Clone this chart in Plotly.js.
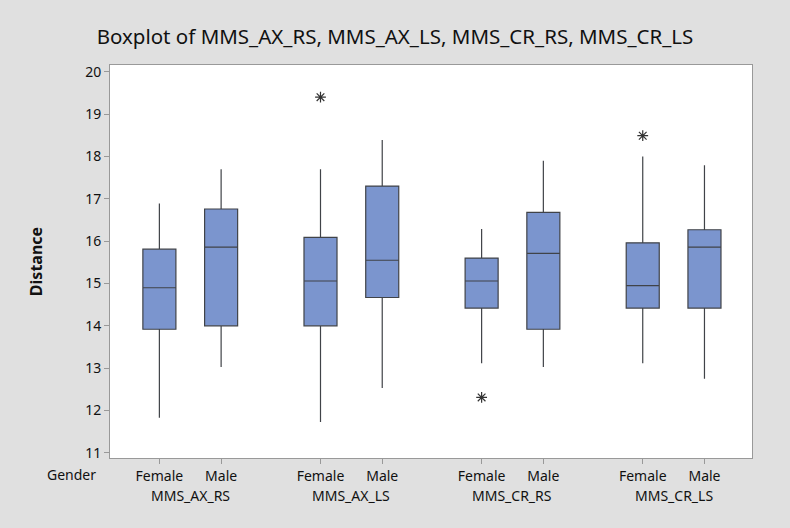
<!DOCTYPE html>
<html>
<head>
<meta charset="utf-8">
<script src="https://cdn.plot.ly/plotly-3.0.1.min.js"></script>
<style>html,body{margin:0;padding:0;background:#e0e0e0;}#chart{width:790px;height:528px;}</style>
</head>
<body>
<div id="chart"></div>
<script>
const variables = ["MMS_AX_RS", "MMS_AX_LS", "MMS_CR_RS", "MMS_CR_LS"];
const genders = ["Female", "Male"];
// order: AX_RS F, AX_RS M, AX_LS F, AX_LS M, CR_RS F, CR_RS M, CR_LS F, CR_LS M
const lowerWhisker = [11.83, 13.03, 11.73, 12.53, 13.12, 13.03, 13.12, 12.75];
const q1Values     = [13.92, 14.00, 14.00, 14.67, 14.42, 13.92, 14.42, 14.42];
const medianValues = [14.90, 15.86, 15.06, 15.55, 15.06, 15.71, 14.95, 15.86];
const q3Values     = [15.81, 16.76, 16.09, 17.30, 15.60, 16.68, 15.96, 16.27];
const upperWhisker = [16.89, 17.70, 17.70, 18.39, 16.29, 17.90, 18.00, 17.79];
const outlierBox   = [2, 4, 6];
const outlierValues = [19.40, 12.31, 18.49];

const groupGap = 2.61;
const pos = i => Math.floor(i / 2) * groupGap + (i % 2);

const traces = [];
for (let i = 0; i < q1Values.length; i++) {
  traces.push({
    type: "box",
    x: [pos(i)],
    q1: [q1Values[i]],
    median: [medianValues[i]],
    q3: [q3Values[i]],
    lowerfence: [lowerWhisker[i]],
    upperfence: [upperWhisker[i]],
    width: 0.535,
    whiskerwidth: 0,
    fillcolor: "#7b95ce",
    line: {color: "#404348", width: 1.2},
    boxpoints: false,
    showlegend: false,
    hoverinfo: "skip"
  });
}
traces.push({
  type: "scatter",
  mode: "markers",
  x: outlierBox.map(pos),
  y: outlierValues,
  marker: {symbol: "asterisk-open", size: 9, color: "#333", line: {color: "#333", width: 1.2}},
  showlegend: false,
  hoverinfo: "skip"
});

const tickvals = [], ticktext = [];
for (let i = 0; i < variables.length * genders.length; i++) {
  tickvals.push(pos(i));
  ticktext.push(genders[i % 2]);
}
const annotations = variables.map((v, g) => ({
  x: g * groupGap + 0.5, y: -0.095, xref: "x", yref: "paper",
  text: v, showarrow: false, font: {size: 14, color: "#111"}, yanchor: "middle"
}));
annotations.push({
  x: -0.0607, y: -0.042, xref: "paper", yref: "paper", text: "Gender", showarrow: false,
  font: {size: 14, color: "#111"}, yanchor: "middle", xanchor: "center"
});

const layout = {
  width: 790, height: 528,
  paper_bgcolor: "#e0e0e0",
  plot_bgcolor: "#ffffff",
  margin: {l: 110, r: 38, t: 65, b: 70},
  font: {family: "Noto Sans, Open Sans, sans-serif", color: "#111"},
  title: {text: "Boxplot of MMS_AX_RS, MMS_AX_LS, MMS_CR_RS, MMS_CR_LS",
          font: {size: 20.5, color: "#111"}, x: 0.5, xanchor: "center", y: 0.93, yanchor: "middle"},
  xaxis: {
    range: [-0.8, 9.6], tickvals: tickvals, ticktext: ticktext,
    ticks: "outside", ticklen: 5, tickcolor: "#999", tickfont: {size: 14},
    showgrid: false, zeroline: false, showline: true, linecolor: "#999", mirror: true
  },
  yaxis: {
    range: [10.88, 20.16], dtick: 1, tick0: 11,
    ticks: "outside", ticklen: 5, tickcolor: "#999", tickfont: {size: 14},
    showgrid: false, zeroline: false, showline: true, linecolor: "#999", mirror: true,
    title: {text: "<b>Distance</b>", font: {size: 16}, standoff: 38}
  },
  annotations: annotations
};
Plotly.newPlot("chart", traces, layout, {staticPlot: true});
</script>
</body>
</html>
